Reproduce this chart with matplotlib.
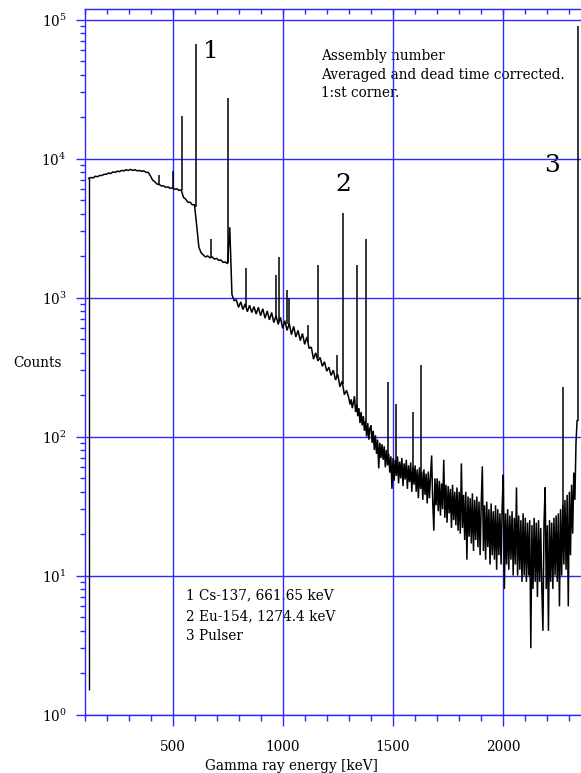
import numpy as np
import matplotlib
matplotlib.use("Agg")
import matplotlib.pyplot as plt
from matplotlib.ticker import FixedLocator, NullFormatter, FuncFormatter, LogLocator

plt.rcParams['font.family'] = ['DejaVu Serif']
plt.rcParams['mathtext.fontset'] = 'dejavuserif'
plt.rcParams['mathtext.default'] = 'regular'

BLUE = '#2b2bff'

# ---- spectrum data -------------------------------------------------------
# low-energy discriminator edge
cutoff_energy = 119
cutoff_floor = 1.5

# counts below 1300 keV, 10 keV bins starting at 119 keV
low_start, low_step = 119, 10
low_counts = [
    7200, 7300, 7250, 7450, 7400, 7550, 7550, 7700, 7700, 7850,
    7800, 8000, 7950, 8100, 8050, 8200, 8150, 8300, 8200, 8350,
    8200, 8300, 8150, 8200, 8100, 8150, 7950, 7950, 7500, 7000,
    6800, 6550, 6500, 6350, 6350, 6200, 6250, 6100, 6150, 6000,
    6050, 5900, 5950, 5250, 5100, 4850, 4850, 4650, 4650, 3300,
    2300, 2100, 2020, 1960, 1990, 1930, 1960, 1890, 1910, 1850,
    1860, 1790, 1800, 1750, 3200, 1050, 950, 960, 850, 930,
    820, 900, 790, 880, 780, 860, 760, 850, 740, 830,
    710, 800, 690, 780, 660, 740, 640, 720, 600, 680,
    580, 650, 540, 620, 520, 580, 490, 550, 460, 520,
    430, 440, 360, 400, 350, 370, 320, 345, 295, 315,
    275, 300, 255, 280, 228, 250, 200, 215, 190,
]

# counts above 1300 keV, 5 keV bins starting at 1305 keV
high_start, high_step = 1305, 5
high_counts = [
    170, 185, 160, 175, 195, 150, 170, 140, 160, 125, 150, 120, 140, 110, 130, 100, 125, 95, 115,
    120, 90, 110, 80, 102, 75, 95, 59, 90, 70, 88, 68, 85, 60, 80, 62, 75, 55, 72, 42,
    70, 48, 68, 52, 72, 46, 66, 50, 70, 44, 64, 49, 68, 42, 62, 47, 65, 40, 60, 45,
    62, 40, 58, 36, 60, 42, 56, 35, 58, 38, 54, 33, 56, 36, 52, 73, 34, 21, 50, 32,
    50, 29, 48, 27, 46, 30, 68, 26, 45, 24, 44, 28, 42, 22, 45, 25, 40, 23, 43, 21,
    40, 20, 64, 22, 38, 18, 40, 13, 37, 19, 36, 17, 39, 15, 35, 18, 37, 16, 34, 14,
    33, 61, 15, 32, 13, 34, 16, 30, 12, 33, 14, 29, 13, 32, 11, 30, 14, 28, 12, 31,
    53, 8, 28, 12, 30, 11, 27, 13, 29, 10, 26, 12, 43, 10, 27, 11, 25, 9, 28, 10,
    26, 9, 24, 10, 25, 3, 23, 8, 26, 9, 24, 7, 25, 9, 22, 8, 4, 24, 43, 8,
    23, 4, 25, 9, 24, 8, 26, 10, 27, 9, 28, 6, 30, 10, 32, 12, 35, 11, 38, 6,
    40, 14, 45, 20, 55, 35, 90, 130,
]

# full-energy peaks: position, continuum under the peak, peak maximum
peak_energy = [438, 500, 541, 605, 674, 751, 833, 969, 981, 1017, 1029, 1113,
               1161, 1247, 1274, 1338, 1376, 1476, 1512, 1589, 1628, 2270, 2338]
peak_base = [6450, 6100, 5900, 4500, 1950, 1760, 860, 700, 680, 640, 620, 480,
             370, 270, 240, 150, 125, 70, 55, 50, 50, 25, 130]
peak_top = [7600, 8100, 20200, 66500, 2630, 27400, 1620, 1450, 1950, 1130, 990, 635,
            1713, 386, 4040, 1713, 2620, 248, 171, 151, 327, 227, 90000]

x_major = [500, 1000, 1500, 2000]
x_minor = list(range(100, 2400, 100))
y_decades = [1, 10, 100, 1000, 10000, 100000]

header_lines = ["Assembly number", "Averaged and dead time corrected.", "1:st corner."]
legend_lines = ["1 Cs-137, 661.65 keV", "2 Eu-154, 1274.4 keV", "3 Pulser"]
peak_marks = ["1", "2", "3"]

# ---- figure --------------------------------------------------------------
W, H = 581, 773
fig = plt.figure(figsize=(W / 100, H / 100), dpi=100)
ax_left, ax_right, ax_top, ax_bottom = 84.5, 581.0, 9.0, 714.5
ax = fig.add_axes([ax_left / W, 1 - ax_bottom / H,
                   (ax_right - ax_left) / W, (ax_bottom - ax_top) / H])

px_per_kev = 0.2204
px_per_decade = 139.0
ax.set_xlim(100, 100 + (ax_right - ax_left) / px_per_kev)
ax.set_yscale('log')
ax.set_ylim(1, 10 ** ((ax_bottom - ax_top) / px_per_decade))


def fig_xy(px, py):
    return px / W, 1 - py / H


low_e = low_start + low_step * np.arange(len(low_counts))
high_e = high_start + high_step * np.arange(len(high_counts))
energy = np.concatenate([low_e, high_e])
counts = np.concatenate([low_counts, high_counts]).astype(float)

ax.plot(energy, counts, color='black', lw=1.1, zorder=2, solid_joinstyle='miter')
ax.vlines(cutoff_energy, cutoff_floor, low_counts[0], color='black', lw=1.0, zorder=2)
ax.vlines(peak_energy, peak_base, peak_top, color='black', lw=1.1, zorder=2)

# axes styling
for side in ('left', 'bottom', 'top'):
    ax.spines[side].set_color(BLUE)
    ax.spines[side].set_linewidth(1.0)
ax.spines['right'].set_visible(False)

ax.xaxis.set_major_locator(FixedLocator(x_major))
ax.xaxis.set_minor_locator(FixedLocator(x_minor))
ax.yaxis.set_major_locator(FixedLocator(y_decades))
ax.yaxis.set_minor_locator(LogLocator(base=10, subs=np.arange(2, 10), numticks=20))
ax.yaxis.set_minor_formatter(NullFormatter())
ax.yaxis.set_major_formatter(FuncFormatter(
    lambda v, pos: r'$10^{%d}$' % int(round(np.log10(v)))))

ax.tick_params(axis='x', which='major', direction='out', length=7.8, width=1.0,
               color=BLUE, pad=10.5, labelsize=9.8)
ax.tick_params(axis='x', which='minor', direction='out', length=4.3, width=1.0, color=BLUE)
ax.tick_params(axis='y', which='major', direction='out', length=6.5, width=1.0,
               color=BLUE, pad=6.5, labelsize=9.8)
ax.tick_params(axis='y', which='minor', direction='out', length=3.6, width=1.0, color=BLUE)

top = ax.secondary_xaxis('top')
top.set_xticks(x_minor)
top.set_xticklabels([])
top.tick_params(axis='x', direction='in', length=3.6, width=1.0, color=BLUE)
top.spines['top'].set_color(BLUE)

ax.grid(True, which='major', axis='both', color=BLUE, lw=1.0)
ax.set_axisbelow(True)

# ---- text ----------------------------------------------------------------
txt = dict(transform=fig.transFigure, fontsize=9.8, zorder=0.3)

hx, hy, hstep = 321, 60, 18.7
for i, line in enumerate(header_lines):
    ax.text(*fig_xy(hx, hy + i * hstep), line, ha='left', va='baseline', **txt)

lx, ly, lstep = 186, 599.3, 20.6
for i, line in enumerate(legend_lines):
    ax.text(*fig_xy(lx, ly + i * lstep), line, ha='left', va='baseline', **txt)

mark_pos = [(210.5, 58.3), (343, 190.7), (552, 172.3)]
for s, (px, py) in zip(peak_marks, mark_pos):
    ax.text(*fig_xy(px, py), s, ha='center', va='baseline', transform=fig.transFigure,
            fontsize=18, zorder=0.3)

fig.text(*fig_xy(37, 363), "Counts", ha='center', va='center', fontsize=9.8)
fig.text(*fig_xy(291, 770), "Gamma ray energy [keV]", ha='center', va='baseline',
         fontsize=9.8)

fig.savefig("out.png", dpi=100)
